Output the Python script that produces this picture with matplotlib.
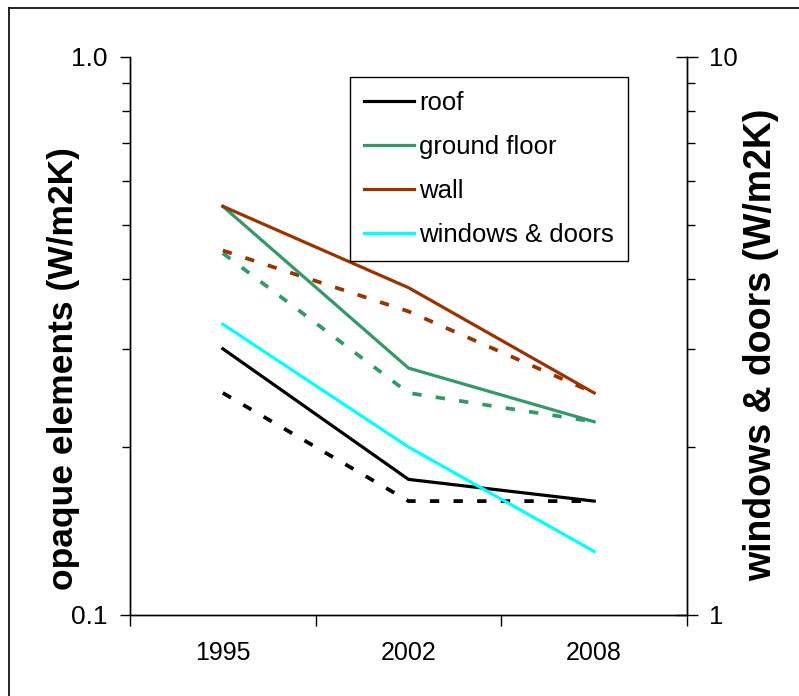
import matplotlib
matplotlib.use("Agg")
import matplotlib.pyplot as plt
from matplotlib.ticker import LogLocator, NullFormatter, FixedLocator, FixedFormatter
from matplotlib.lines import Line2D

plt.rcParams['font.family'] = ['Liberation Sans', 'DejaVu Sans']

years = ["1995", "2002", "2008"]
x = [0, 1, 2]

# U-values opaque elements (left axis)
roof = [0.30, 0.175, 0.16]
ground_floor = [0.54, 0.277, 0.222]
wall = [0.54, 0.386, 0.25]
# dashed series
roof_d = [0.25, 0.16, 0.16]
ground_floor_d = [0.445, 0.25, 0.222]
wall_d = [0.45, 0.35, 0.25]
# windows & doors (right axis)
windows = [3.32, 2.0, 1.30]

c_roof = "#000000"
c_ground = "#339966"
c_wall = "#993300"
c_win = "#00FFFF"

fig = plt.figure(figsize=(7.99, 6.96), dpi=100)
ax = fig.add_axes([130/799, 1-615/696, 557/799, 558/696])
ax2 = ax.twinx()

lw = 2.3
ds = (0, (2.5, 3.8))
ax.plot(x, roof_d, linestyle=ds, color=c_roof, lw=lw+0.4, label='_nolegend_')
ax.plot(x, ground_floor_d, linestyle=ds, color=c_ground, lw=lw+0.4, label='_nolegend_')
ax.plot(x, wall_d, linestyle=ds, color=c_wall, lw=lw+0.4, label='_nolegend_')
l1 = ax.plot(x, roof, '-', color=c_roof, lw=lw, label='roof')
l2 = ax.plot(x, ground_floor, '-', color=c_ground, lw=lw, label='ground floor')
l3 = ax.plot(x, wall, '-', color=c_wall, lw=lw, label='wall')
l4 = ax2.plot(x, windows, '-', color=c_win, lw=lw, label='windows & doors')

ax.set_yscale('log')
ax2.set_yscale('log')
ax.set_ylim(0.1, 1.0)
ax2.set_ylim(1, 10)
ax.set_xlim(-0.5, 2.5)

# left axis ticks
ax.yaxis.set_major_locator(FixedLocator([0.1, 1.0]))
ax.yaxis.set_major_formatter(FixedFormatter(["0.1", "1.0"]))
ax.yaxis.set_minor_locator(LogLocator(base=10, subs=range(2, 10)))
ax.yaxis.set_minor_formatter(NullFormatter())
ax.tick_params(axis='y', which='major', direction='out', length=7, width=1, pad=9, labelsize=19)
ax.tick_params(axis='y', which='minor', direction='out', length=6, width=1)

# right axis ticks
ax2.yaxis.set_major_locator(FixedLocator([1, 10]))
ax2.yaxis.set_major_formatter(FixedFormatter(["1", "10"]))
ax2.yaxis.set_minor_locator(LogLocator(base=10, subs=range(2, 10)))
ax2.yaxis.set_minor_formatter(NullFormatter())
ax2.tick_params(axis='y', which='major', direction='inout', length=16, width=1, pad=8, labelsize=18.5)
ax2.tick_params(axis='y', which='minor', direction='out', length=6, width=1)

# category axis: ticks between categories, labels at centres
ax.xaxis.set_major_locator(FixedLocator([-0.5, 0.5, 1.5, 2.5]))
ax.xaxis.set_major_formatter(NullFormatter())
ax.xaxis.set_minor_locator(FixedLocator(x))
ax.xaxis.set_minor_formatter(FixedFormatter(years))
ax.tick_params(axis='x', which='minor', length=0, pad=19, labelsize=18)
ax.tick_params(axis='x', which='major', direction='out', length=8, width=1)

for a in (ax, ax2):
    a.spines['top'].set_visible(False)
    for s in ('left', 'right', 'bottom'):
        a.spines[s].set_linewidth(1)

ax.set_ylabel("opaque elements (W/m2K)", fontsize=25.5, fontweight='bold')
ax.yaxis.set_label_coords((80-130)/557, (615-369)/558)
ax2.set_ylabel("windows & doors (W/m2K)", fontsize=27, fontweight='bold')
ax2.yaxis.set_label_coords((743-130)/557, (615-345)/558)

lns = l1 + l2 + l3 + l4
labs = [l.get_label() for l in lns]
leg = ax2.legend(lns, labs, loc='upper left', bbox_to_anchor=((350-130)/557, (615-77)/558),
                 borderaxespad=0, fontsize=18.5, fancybox=False, framealpha=1,
                 edgecolor='black', handlelength=1.95, handletextpad=0.2,
                 labelspacing=0.78, borderpad=0.55)
leg.get_frame().set_linewidth(1)

# outer chart frame
fig.add_artist(Line2D([9/799, 9/799], [0, 1-8/696], color='black', lw=1.2))
fig.add_artist(Line2D([9/799, 1], [1-8/696, 1-8/696], color='black', lw=1.2))

fig.savefig("out.png", dpi=100)
